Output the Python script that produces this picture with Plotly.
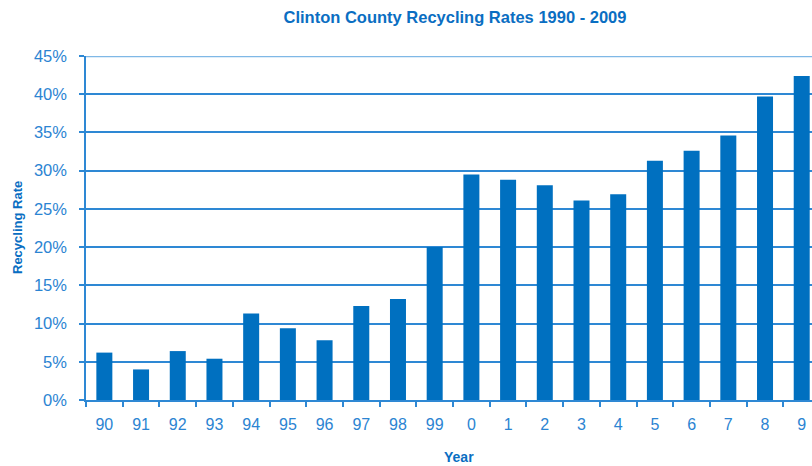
import plotly.graph_objects as go

years = ["90", "91", "92", "93", "94", "95", "96", "97", "98", "99",
         "0", "1", "2", "3", "4", "5", "6", "7", "8", "9"]
rates = [6.2, 4.0, 6.4, 5.4, 11.3, 9.4, 7.8, 12.3, 13.2, 20.0,
         29.5, 28.8, 28.1, 26.1, 26.9, 31.3, 32.6, 34.6, 39.7, 42.4]
y_ticks = [0, 5, 10, 15, 20, 25, 30, 35, 40, 45]

title_text = "Clinton County Recycling Rates 1990 - 2009"
x_title = "Year"
y_title = "Recycling Rate"

bar_color = "#0070C0"
text_color = "#0A6EC2"
tick_color = "#2B84D2"
grid_color = "#2E88D4"
font_family = "Liberation Sans, Arial, sans-serif"

W, H = 812, 466
L, T, B = 86, 56, 66
plot_w = W - L

fig = go.Figure()
fig.add_trace(go.Bar(x=years, y=rates, marker=dict(color=bar_color, line=dict(width=0)),
                     hoverinfo="skip"))

fig.update_layout(
    width=W, height=H,
    margin=dict(l=L, r=0, t=T, b=B),
    paper_bgcolor="white", plot_bgcolor="white",
    bargap=0.564,
    showlegend=False,
    font=dict(family=font_family, color=tick_color, size=16),
    title=dict(text="<b>" + title_text + "</b>", x=(455 - L) / plot_w, xref="paper",
               y=1 - 17 / H, yref="container", xanchor="center", yanchor="middle",
               font=dict(size=16.5, color=text_color, family=font_family)),
)

fig.update_xaxes(
    type="category", range=[-0.5, 19.28],
    showline=True, linecolor=grid_color, linewidth=1.5,
    ticks="outside", tickson="boundaries", ticklen=5, tickcolor=grid_color, tickwidth=1.5,
    tickfont=dict(size=16, color=tick_color),
    ticklabelstandoff=9,
    showgrid=False,
)
fig.update_yaxes(
    range=[0, 45], tickvals=y_ticks, ticktext=[f"{v}%" for v in y_ticks],
    showline=True, linecolor=grid_color, linewidth=1.5,
    ticks="outside", ticklen=5, tickcolor=grid_color, tickwidth=1.5,
    tickfont=dict(size=16.5, color=tick_color),
    ticklabelstandoff=9,
    showgrid=True, gridcolor=grid_color, gridwidth=1.5,
    zeroline=False,
)

# lighter top gridline
fig.add_shape(type="line", xref="paper", yref="y", x0=0, x1=1,
              y0=y_ticks[-1], y1=y_ticks[-1],
              line=dict(color="#7FB8E6", width=2.5), layer="above")

fig.add_annotation(text="<b>" + y_title + "</b>", xref="paper", yref="paper",
                   x=0, y=0.5, xanchor="center", yanchor="middle", xshift=-(L - 17),
                   textangle=-90, showarrow=False,
                   font=dict(size=13, color=text_color, family=font_family))
fig.add_annotation(text="<b>" + x_title + "</b>", xref="paper", yref="paper",
                   x=(459 - L) / plot_w, y=0, xanchor="center", yanchor="middle", yshift=-57,
                   showarrow=False,
                   font=dict(size=14, color=text_color, family=font_family))

fig.write_html("out.html",
               config={"displayModeBar": False},
               post_script="document.body.style.margin='0';document.body.style.overflow='hidden';")
